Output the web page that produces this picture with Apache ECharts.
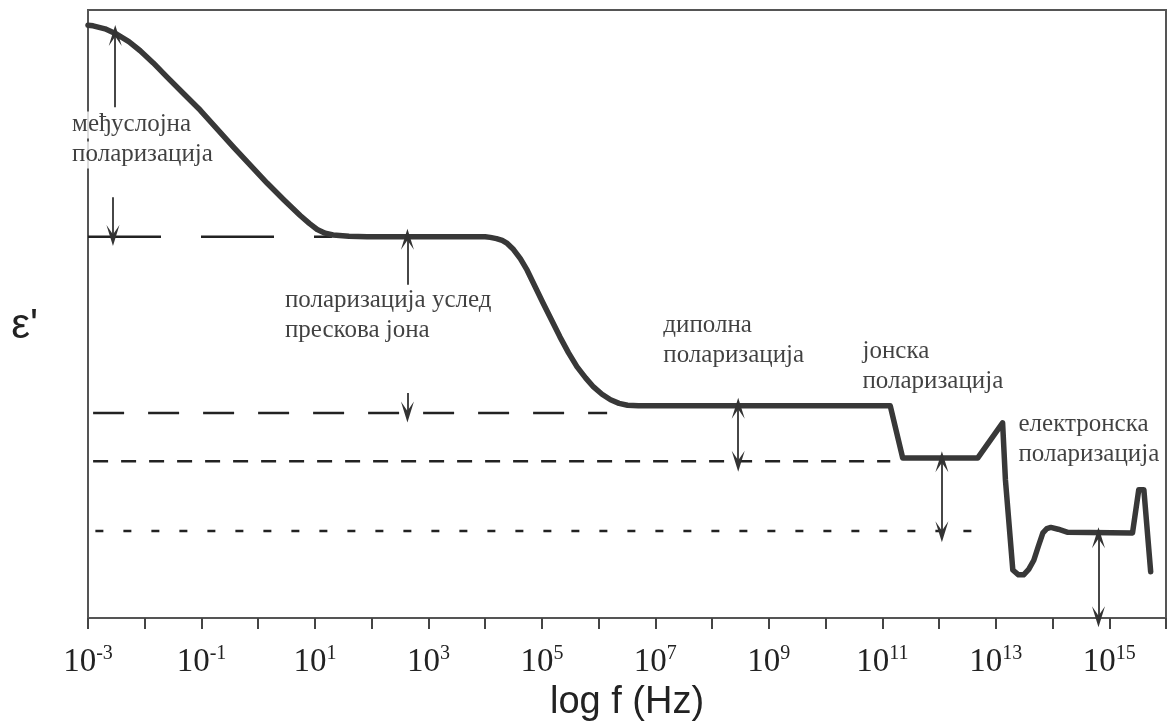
<!DOCTYPE html>
<html>
<head>
<meta charset="utf-8">
<script src="https://cdn.jsdelivr.net/npm/echarts@6/dist/echarts.min.js"></script>
<style>html,body{margin:0;padding:0;background:#fff}#c{width:1171px;height:728px}</style>
</head>
<body>
<div id="c"></div>
<script>
// log10 of frequency (Hz) and relative permittivity (arbitrary units 0..100)
const curveLogF = [-3.0, -2.91, -2.7, -2.49, -2.28, -2.08, -1.85, -1.61, -1.3, -1.02, -0.73, -0.44, -0.14, 0.16, 0.45, 0.74, 0.9, 1.04, 1.18, 1.32, 1.6, 1.92, 4.0, 4.09, 4.2, 4.3, 4.39, 4.5, 4.62, 4.74, 5.02, 5.32, 5.47, 5.62, 5.77, 5.91, 6.06, 6.21, 6.36, 6.51, 6.7, 11.14, 11.36, 12.68, 13.12, 13.17, 13.30, 13.4, 13.49, 13.58, 13.67, 13.75, 13.83, 13.9, 13.97, 14.1, 14.27, 15.41, 15.52, 15.61, 15.73];
const curveEps  = [97.5, 97.4, 96.9, 96.0, 94.8, 93.3, 91.3, 89.0, 86.1, 83.5, 80.5, 77.5, 74.5, 71.5, 68.8, 66.2, 64.9, 63.9, 63.3, 63.0, 62.8, 62.7, 62.7, 62.6, 62.4, 62.1, 61.6, 60.6, 59.1, 57.2, 51.8, 46.2, 43.6, 41.3, 39.5, 38.0, 36.8, 35.9, 35.3, 35.0, 34.9, 34.9, 26.3, 26.3, 32.1, 22.7, 7.9, 7.1, 7.1, 8.0, 9.5, 11.8, 14.0, 14.7, 14.9, 14.6, 14.1, 14.0, 21.1, 21.1, 7.6];

// reference levels (dashed lines)
const levelEps   = [62.7, 33.7, 25.8, 14.3];
const levelStart = [-3.0, -2.91, -2.91, -2.87];
const levelEnd   = [1.3, 6.15, 11.14, 12.7];
const levelDash  = [[73, 40], [31, 24], [15, 13], [8, 20]];

// arrows: x position, from, to, which ends carry heads
const arrowX    = [-2.52, -2.56, 2.63, 2.63, 8.46, 12.05, 14.81];
const arrowFrom = [84.0, 69.2, 54.8, 37.0, 34.5, 25.7, 13.2];
const arrowTo   = [95.8, 62.9, 62.3, 33.9, 25.8, 14.2, 0.2];
const arrowHeads= ['end', 'end', 'end', 'end', 'both', 'both', 'both'];

// annotation labels
const labelText = ['међуслојна\nполаризација', 'поларизација услед\nпрескова јона', 'диполна\nполаризација', 'јонска\nполаризација', 'електронска\nполаризација'];
const labelX = [-3.28, 0.47, 7.14, 10.65, 13.40];
const labelY = [78.6, 49.8, 45.6, 41.4, 29.3];

// tick labels (exponents shown)
const tickExponents = [-3, -1, 1, 3, 5, 7, 9, 11, 13, 15];

const arrowSym = 'path://M10,0 L20,22 L10,12 L0,22 Z';

const chart = echarts.init(document.getElementById('c'));

const series = [];
series.push({
  type: 'line',
  data: curveLogF.map((x, i) => [x, curveEps[i]]),
  symbol: 'none',
  lineStyle: { color: '#383838', width: 5.5, join: 'round', cap: 'round' },
  z: 4,
  markLine: {
    silent: true,
    animation: false,
    label: { show: false },
    lineStyle: { type: 'solid', color: '#333', width: 1.8 },
    symbolSize: [13, 21],
    data: arrowX.map((x, i) => [
      { coord: [x, arrowFrom[i]], symbol: arrowHeads[i] === 'both' ? arrowSym : 'none' },
      { coord: [x, arrowTo[i]], symbol: arrowSym }
    ])
  }
});
levelEps.forEach((e, i) => {
  series.push({
    type: 'line',
    data: [[levelStart[i], e], [levelEnd[i], e]],
    symbol: 'none',
    lineStyle: { color: '#222', width: 2.5, type: levelDash[i] },
    z: 3
  });
});
series.push({
  type: 'scatter',
  clip: false,
  symbolSize: 0,
  z: 6,
  data: labelText.map((t, i) => ({ value: [labelX[i], labelY[i], t], withBg: i === 0 })),
  label: {
    show: true,
    position: 'right',
    distance: 0,
    formatter: p => p.data.withBg
      ? p.data.value[2].split('\n').map(s => '{w|' + s + '}').join('\n')
      : p.data.value[2],
    fontFamily: 'Liberation Serif',
    fontSize: 25,
    lineHeight: 30,
    color: '#111',
    rich: {
      w: { fontFamily: 'Liberation Serif', fontSize: 25, lineHeight: 30, color: '#111', backgroundColor: '#fff', padding: [0, 1, 2, 0] }
    }
  }
});

chart.setOption({
  animation: false,
  backgroundColor: '#fff',
  grid: { left: 88, right: 5, top: 10, bottom: 110, show: true, borderColor: '#555', borderWidth: 2 },
  xAxis: {
    type: 'value', min: -3, max: 16, interval: 1,
    axisLine: { lineStyle: { color: '#555', width: 2 } },
    axisTick: { length: 11, lineStyle: { color: '#444', width: 2 } },
    splitLine: { show: false },
    axisLabel: {
      margin: 26,
      formatter: v => tickExponents.includes(v) ? '{b|10}{s|' + v + '}' : '',
      rich: {
        b: { fontFamily: 'Liberation Serif', fontSize: 33, color: '#222', lineHeight: 36 },
        s: { fontFamily: 'Liberation Serif', fontSize: 20, color: '#222', verticalAlign: 'top', lineHeight: 20 }
      }
    },
    name: 'log f (Hz)', nameLocation: 'middle', nameGap: 63,
    nameTextStyle: { fontFamily: 'Liberation Sans', fontSize: 38, color: '#222' }
  },
  yAxis: {
    type: 'value', min: 0, max: 100,
    axisLine: { show: true, onZero: false, lineStyle: { color: '#555', width: 2 } },
    axisTick: { show: false }, axisLabel: { show: false }, splitLine: { show: false },
    name: "ε'", nameLocation: 'middle', nameRotate: 0, nameGap: 50,
    nameTextStyle: { fontFamily: 'Liberation Sans', fontSize: 42, color: '#222', verticalAlign: 'top', lineHeight: 24 }
  },
  series: series
});
</script>
</body>
</html>
